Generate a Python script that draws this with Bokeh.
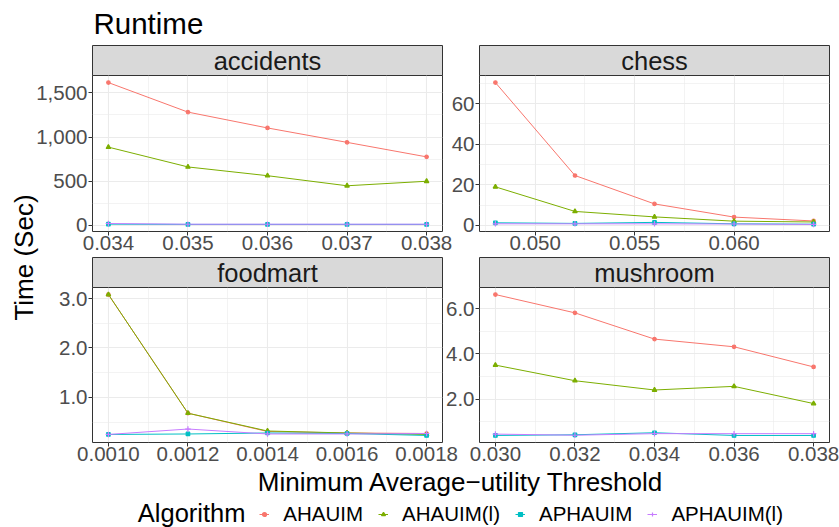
import math
from bokeh.plotting import figure
from bokeh.models import Range1d, FixedTicker, Legend, LegendItem, Label, ColumnDataSource
from bokeh.embed import file_html
from bokeh.resources import INLINE

W, H = 839, 527
FONT = "Liberation Sans"
MID = 0.3465  # distance (in em) from the alphabetic baseline to the "middle" anchor

# ---------------- data ----------------
algorithms = ["AHAUIM", "AHAUIM(l)", "APHAUIM", "APHAUIM(l)"]
colors = ["#F8766D", "#7CAE00", "#00BFC4", "#C77CFF"]
markers = ["circle", "triangle", "square", "cross"]
marker_sizes = [3.5, 4.5, 3.5, 5.5]

datasets = ["accidents", "chess", "foodmart", "mushroom"]

accidents_threshold = [0.034, 0.035, 0.036, 0.037, 0.038]
accidents_AHAUIM = [1616, 1282, 1103, 940, 776]
accidents_AHAUIM_l = [886, 662, 563, 449, 500]
accidents_APHAUIM = [15, 12, 12, 12, 12]
accidents_APHAUIM_l = [22, 14, 14, 14, 14]

chess_threshold = [0.048, 0.052, 0.056, 0.060, 0.064]
chess_AHAUIM = [70.4, 24.6, 10.6, 4.1, 2.2]
chess_AHAUIM_l = [19.0, 6.9, 4.2, 2.1, 1.7]
chess_APHAUIM = [1.3, 1.0, 1.5, 0.8, 0.6]
chess_APHAUIM_l = [0.8, 0.8, 0.8, 0.7, 0.5]

foodmart_threshold = [0.0010, 0.0012, 0.0014, 0.0016, 0.0018]
foodmart_AHAUIM = [3.08, 0.68, 0.31, 0.28, 0.27]
foodmart_AHAUIM_l = [3.08, 0.68, 0.32, 0.28, 0.25]
foodmart_APHAUIM = [0.25, 0.26, 0.28, 0.27, 0.23]
foodmart_APHAUIM_l = [0.25, 0.36, 0.26, 0.26, 0.27]

mushroom_threshold = [0.030, 0.032, 0.034, 0.036, 0.038]
mushroom_AHAUIM = [6.62, 5.81, 4.65, 4.31, 3.42]
mushroom_AHAUIM_l = [3.50, 2.81, 2.40, 2.56, 1.80]
mushroom_APHAUIM = [0.39, 0.42, 0.51, 0.39, 0.39]
mushroom_APHAUIM_l = [0.45, 0.40, 0.47, 0.47, 0.47]

# ---------------- tick labels ----------------
accidents_x_ticks = [0.034, 0.035, 0.036, 0.037, 0.038]
accidents_x_labels = ["0.034", "0.035", "0.036", "0.037", "0.038"]
accidents_y_ticks = [0, 500, 1000, 1500]
accidents_y_labels = ["0", "500", "1,000", "1,500"]

chess_x_ticks = [0.050, 0.055, 0.060]
chess_x_labels = ["0.050", "0.055", "0.060"]
chess_y_ticks = [0, 20, 40, 60]
chess_y_labels = ["0", "20", "40", "60"]

foodmart_x_ticks = [0.0010, 0.0012, 0.0014, 0.0016, 0.0018]
foodmart_x_labels = ["0.0010", "0.0012", "0.0014", "0.0016", "0.0018"]
foodmart_y_ticks = [1.0, 2.0, 3.0]
foodmart_y_labels = ["1.0", "2.0", "3.0"]

mushroom_x_ticks = [0.030, 0.032, 0.034, 0.036, 0.038]
mushroom_x_labels = ["0.030", "0.032", "0.034", "0.036", "0.038"]
mushroom_y_ticks = [2.0, 4.0, 6.0]
mushroom_y_labels = ["2.0", "4.0", "6.0"]

title_text = "Runtime"
x_title = "Minimum Average\u2212utility Threshold"
y_title = "Time (Sec)"
legend_title = "Algorithm"

panels = {
    "accidents": dict(x=accidents_threshold,
                      ys=[accidents_AHAUIM, accidents_AHAUIM_l, accidents_APHAUIM, accidents_APHAUIM_l],
                      xt=accidents_x_ticks, xl=accidents_x_labels, yt=accidents_y_ticks, yl=accidents_y_labels),
    "chess": dict(x=chess_threshold,
                  ys=[chess_AHAUIM, chess_AHAUIM_l, chess_APHAUIM, chess_APHAUIM_l],
                  xt=chess_x_ticks, xl=chess_x_labels, yt=chess_y_ticks, yl=chess_y_labels),
    "foodmart": dict(x=foodmart_threshold,
                     ys=[foodmart_AHAUIM, foodmart_AHAUIM_l, foodmart_APHAUIM, foodmart_APHAUIM_l],
                     xt=foodmart_x_ticks, xl=foodmart_x_labels, yt=foodmart_y_ticks, yl=foodmart_y_labels),
    "mushroom": dict(x=mushroom_threshold,
                     ys=[mushroom_AHAUIM, mushroom_AHAUIM_l, mushroom_APHAUIM, mushroom_APHAUIM_l],
                     xt=mushroom_x_ticks, xl=mushroom_x_labels, yt=mushroom_y_ticks, yl=mushroom_y_labels),
}

# ---------------- layout (pixel frames) ----------------
frames = {  # left, right, top, bottom of plotting panel
    "accidents": (92, 442, 75, 231),
    "chess": (479, 829, 75, 231),
    "foodmart": (92, 442, 287, 442),
    "mushroom": (479, 829, 287, 442),
}
STRIP_H = 30


def base_fig(l, r, t, b, **kw):
    p = figure(width=W, height=H, output_backend="svg", toolbar_location=None,
               min_border_left=l, min_border_right=W - r,
               min_border_top=t, min_border_bottom=H - b, **kw)
    p.border_fill_alpha = 0
    return p


def expand(vals):
    lo, hi = min(vals), max(vals)
    d = (hi - lo) * 0.05
    return lo - d, hi + d


def minors(ticks, lo, hi):
    step = ticks[1] - ticks[0]
    cands = [ticks[0] - step / 2] + [t + step / 2 for t in ticks]
    return [c for c in cands if lo <= c <= hi]


def text_label(x, y_base, text, size, color="black", align="left", angle=0.0, **kw):
    return Label(x=x, y=y_base, text=text, text_font=FONT, text_font_size=f"{size}px",
                 text_color=color, text_align=align, text_baseline="middle", angle=angle, **kw)


children = []

# decoration figure (titles + legend), its frame is the whole canvas
deco = base_fig(0, W, 0, H, x_range=Range1d(0, W), y_range=Range1d(H, 0),
                x_axis_type=None, y_axis_type=None)
deco.grid.visible = False
deco.outline_line_color = None
deco.background_fill_alpha = 0
deco.add_layout(text_label(93, 33.3 - MID * 29.5, title_text, 29.5))
deco.add_layout(text_label(460.5, 491 - MID * 26, x_title, 26, align="center"))
deco.add_layout(text_label(33 - MID * 26, 257, y_title, 26, align="center", angle=math.pi / 2))
deco.add_layout(text_label(137.3, 521.7 - MID * 25.5, legend_title, 25.5))

# legend keys: renderers holding a single missing (NaN) point, so only their legend key shows
items = []
for i, alg in enumerate(algorithms):
    key_src = ColumnDataSource(dict(x=[float("nan")], y=[float("nan")]))
    ln = deco.line("x", "y", source=key_src, line_color=colors[i], line_width=1)
    sc = deco.scatter("x", "y", source=key_src, marker=markers[i], size=marker_sizes[i],
                      fill_color=colors[i], line_color=colors[i], line_width=1.2)
    items.append(LegendItem(label=alg, renderers=[ln, sc]))
legend = Legend(items=items, orientation="horizontal", location=(259.3, H - 525.5),
                glyph_width=10, glyph_height=24, label_height=24, label_standoff=14, spacing=15,
                padding=0, margin=0, border_line_color=None, background_fill_alpha=0,
                label_text_font=FONT, label_text_font_size="20.5px", label_text_color="black")
deco.add_layout(legend)
children.append(deco)

for name in datasets:
    d = panels[name]
    l, r, t, b = frames[name]
    allv = [v for ys in d["ys"] for v in ys]
    xlo, xhi = expand(d["x"])
    ylo, yhi = expand(allv)

    # facet strip
    s = base_fig(l, r, t - STRIP_H, t, x_range=Range1d(0, 1), y_range=Range1d(0, STRIP_H),
                 x_axis_type=None, y_axis_type=None)
    s.grid.visible = False
    s.background_fill_color = "#D9D9D9"
    s.outline_line_color = "#333333"
    s.outline_line_width = 1
    s.add_layout(Label(x=0.5, y=5.6 + MID * 25.5, text=name, text_font=FONT, text_font_size="25.5px",
                       text_color="#1A1A1A", text_align="center", text_baseline="middle"))
    children.append(s)

    # panel
    p = base_fig(l, r, t, b, x_range=Range1d(xlo, xhi), y_range=Range1d(ylo, yhi))
    p.background_fill_color = "white"
    p.outline_line_color = "#333333"
    p.outline_line_width = 1
    p.xaxis.ticker = FixedTicker(ticks=d["xt"], minor_ticks=minors(d["xt"], xlo, xhi))
    p.yaxis.ticker = FixedTicker(ticks=d["yt"], minor_ticks=minors(d["yt"], ylo, yhi))
    p.xaxis.major_label_overrides = {tk: lb for tk, lb in zip(d["xt"], d["xl"])}
    p.yaxis.major_label_overrides = {tk: lb for tk, lb in zip(d["yt"], d["yl"])}
    for ax in (p.xaxis[0], p.yaxis[0]):
        ax.major_label_text_font = FONT
        ax.major_label_text_font_size = "20.5px"
        ax.major_label_text_color = "#4D4D4D"
        ax.major_tick_out = 4
        ax.major_tick_in = 0
        ax.major_tick_line_color = "#333333"
        ax.minor_tick_line_color = None
        ax.axis_line_color = None
    p.xaxis.major_label_standoff = 0
    p.yaxis.major_label_standoff = 1
    for g in (p.xgrid[0], p.ygrid[0]):
        g.grid_line_color = "#EBEBEB"
        g.grid_line_width = 1.1
        g.minor_grid_line_color = "#EBEBEB"
        g.minor_grid_line_width = 0.6

    for i, alg in enumerate(algorithms):
        src = ColumnDataSource(dict(x=d["x"], y=d["ys"][i]))
        p.line("x", "y", source=src, line_color=colors[i], line_width=1)
    for i, alg in enumerate(algorithms):
        src = ColumnDataSource(dict(x=d["x"], y=d["ys"][i]))
        p.scatter("x", "y", source=src, marker=markers[i], size=marker_sizes[i],
                  fill_color=colors[i], line_color=colors[i], line_width=1.2)
    children.append(p)

for c in children[1:]:
    c.margin = (-H, 0, 0, 0)

open("out.html", "w").write(file_html(children, INLINE))
